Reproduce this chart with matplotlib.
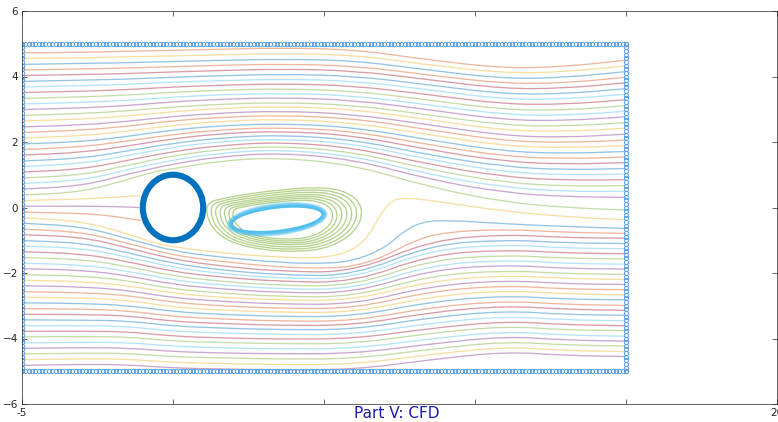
import numpy as np
import matplotlib
matplotlib.use('Agg')
import matplotlib.pyplot as plt
from matplotlib.path import Path
from matplotlib.patches import PathPatch, Ellipse

station_x = [-5, -3, -1.5, 0, 1.5, 3.5, 6, 8.5, 11, 13, 15]

# upper streamlines (lines 1..25, top to bottom), y at each station
y_top_m5 = [4.72, 4.55, 4.37, 4.20, 4.03, 3.85, 3.68, 3.51, 3.33, 3.16, 2.99, 2.81, 2.64,
            2.46, 2.29, 2.12, 1.94, 1.77, 1.60, 1.42, 1.25, 1.08, 0.90, 0.73, 0.56]
y_top_m3 = [4.74, 4.57, 4.40, 4.23, 4.06, 3.89, 3.72, 3.55, 3.38, 3.21, 3.04, 2.87, 2.70,
            2.52, 2.36, 2.19, 2.01, 1.85, 1.68, 1.50, 1.34, 1.17, 0.99, 0.83, 0.66]
y_top_m1p5 = [4.77, 4.60, 4.42, 4.26, 4.09, 3.92, 3.76, 3.60, 3.43, 3.27, 3.11, 2.95, 2.79,
              2.63, 2.48, 2.33, 2.17, 2.03, 1.88, 1.73, 1.59, 1.44, 1.29, 1.16, 1.02]
y_top_0 = [4.80, 4.63, 4.46, 4.30, 4.14, 3.98, 3.83, 3.68, 3.52, 3.37, 3.23, 3.07, 2.93,
           2.78, 2.65, 2.51, 2.37, 2.23, 2.10, 1.96, 1.84, 1.71, 1.58, 1.45, 1.33]
y_top_1p5 = [4.83, 4.66, 4.49, 4.34, 4.18, 4.02, 3.87, 3.73, 3.58, 3.44, 3.30, 3.15, 3.02,
             2.88, 2.75, 2.63, 2.49, 2.37, 2.25, 2.12, 2.01, 1.89, 1.77, 1.66, 1.55]
y_top_3p5 = [4.87, 4.70, 4.53, 4.38, 4.23, 4.07, 3.92, 3.78, 3.63, 3.49, 3.36, 3.21, 3.09,
             2.95, 2.82, 2.70, 2.57, 2.45, 2.34, 2.22, 2.10, 2.00, 1.88, 1.77, 1.67]
y_top_6 = [4.83, 4.66, 4.49, 4.33, 4.18, 4.02, 3.87, 3.72, 3.56, 3.42, 3.28, 3.13, 3.00,
           2.85, 2.72, 2.59, 2.45, 2.33, 2.20, 2.07, 1.95, 1.83, 1.70, 1.58, 1.47]
y_top_8p5 = [4.50, 4.35, 4.19, 4.04, 3.90, 3.74, 3.59, 3.44, 3.28, 3.13, 2.98, 2.82, 2.68,
             2.52, 2.37, 2.22, 2.06, 1.91, 1.76, 1.60, 1.46, 1.31, 1.15, 1.00, 0.85]
y_top_11 = [4.25, 4.10, 3.93, 3.78, 3.62, 3.46, 3.30, 3.15, 2.98, 2.83, 2.67, 2.51, 2.35,
            2.19, 2.03, 1.88, 1.71, 1.56, 1.40, 1.24, 1.08, 0.93, 0.76, 0.61, 0.45]
y_top_13 = [4.30, 4.14, 3.97, 3.80, 3.64, 3.47, 3.31, 3.15, 2.97, 2.81, 2.65, 2.48, 2.32,
            2.14, 1.98, 1.82, 1.65, 1.49, 1.32, 1.15, 0.99, 0.83, 0.65, 0.49, 0.33]
y_top_15 = [4.50, 4.33, 4.15, 3.98, 3.81, 3.63, 3.46, 3.29, 3.11, 2.94, 2.77, 2.59, 2.42,
            2.24, 2.06, 1.89, 1.71, 1.54, 1.37, 1.19, 1.02, 0.85, 0.67, 0.49, 0.31]

# lower streamlines (lines 33..56, top to bottom)
y_bot_m5 = [-0.83, -1.01, -1.18, -1.35, -1.53, -1.70, -1.87, -2.05, -2.22, -2.39, -2.57, -2.74,
            -2.91, -3.09, -3.26, -3.43, -3.61, -3.78, -3.95, -4.13, -4.30, -4.47, -4.65, -4.82]
y_bot_m3 = [-0.90, -1.08, -1.24, -1.41, -1.58, -1.75, -1.91, -2.09, -2.26, -2.42, -2.60, -2.76,
            -2.93, -3.10, -3.27, -3.44, -3.61, -3.78, -3.94, -4.12, -4.28, -4.45, -4.62, -4.79]
y_bot_m1p5 = [-1.23, -1.38, -1.51, -1.65, -1.80, -1.94, -2.08, -2.23, -2.38, -2.53, -2.68, -2.83,
              -2.99, -3.15, -3.30, -3.46, -3.63, -3.79, -3.95, -4.12, -4.29, -4.45, -4.63, -4.80]
y_bot_0 = [-1.58, -1.71, -1.83, -1.96, -2.09, -2.22, -2.35, -2.49, -2.62, -2.76, -2.90, -3.04,
           -3.18, -3.33, -3.48, -3.62, -3.78, -3.93, -4.08, -4.24, -4.40, -4.56, -4.73, -4.90]
y_bot_1p5 = [-1.78, -1.90, -2.01, -2.12, -2.25, -2.36, -2.48, -2.61, -2.74, -2.86, -3.00, -3.13,
             -3.26, -3.40, -3.54, -3.68, -3.83, -3.98, -4.12, -4.28, -4.44, -4.59, -4.76, -4.93]
y_bot_3p5 = [-1.95, -2.06, -2.16, -2.26, -2.38, -2.49, -2.60, -2.72, -2.83, -2.95, -3.08, -3.20,
             -3.33, -3.47, -3.60, -3.73, -3.88, -4.02, -4.16, -4.32, -4.47, -4.63, -4.80, -4.96]
y_bot_6 = [-1.98, -2.09, -2.18, -2.29, -2.40, -2.50, -2.61, -2.73, -2.84, -2.96, -3.09, -3.21,
           -3.33, -3.47, -3.60, -3.73, -3.88, -4.01, -4.16, -4.31, -4.46, -4.62, -4.79, -4.95]
y_bot_8p5 = [-1.00, -1.14, -1.29, -1.44, -1.60, -1.76, -1.91, -2.08, -2.24, -2.40, -2.56, -2.72,
             -2.88, -3.05, -3.20, -3.36, -3.53, -3.69, -3.84, -4.01, -4.17, -4.33, -4.49, -4.65]
y_bot_11 = [-0.82, -0.98, -1.13, -1.29, -1.45, -1.60, -1.75, -1.92, -2.07, -2.22, -2.38, -2.53,
            -2.69, -2.85, -3.00, -3.15, -3.32, -3.47, -3.62, -3.78, -3.93, -4.09, -4.25, -4.40]
y_bot_13 = [-0.92, -1.08, -1.24, -1.39, -1.55, -1.71, -1.86, -2.02, -2.17, -2.33, -2.49, -2.64,
            -2.80, -2.96, -3.11, -3.27, -3.43, -3.58, -3.74, -3.90, -4.05, -4.20, -4.37, -4.52]
y_bot_15 = [-0.94, -1.10, -1.26, -1.41, -1.57, -1.73, -1.88, -2.04, -2.20, -2.35, -2.51, -2.67,
            -2.82, -2.99, -3.14, -3.29, -3.46, -3.61, -3.76, -3.93, -4.08, -4.23, -4.40, -4.55]

# lines next to the cylinder / wake (line number 26..32)
l26_x = [-5, -3, -1.5, -0.5, 0, 1.5, 3.5, 6, 8.5, 11, 13, 15]
l26_y = [0.38, 0.47, 0.86, 1.12, 1.18, 1.42, 1.53, 1.30, 0.62, 0.16, 0.0, -0.08]
l27_x = [-5, -3, -2, -1.08]
l27_y = [0.21, 0.26, 0.31, 0.36]
l28_x = [-5, -3, -2, -1.12]
l28_y = [0.04, 0.04, 0.03, 0.0]
l29_x = [-5, -3, -2, -1.06]
l29_y = [-0.14, -0.18, -0.26, -0.40]
l30_x = [-5, -3, -1.5, -0.5, 0, 1.5, 3.5, 5, 6, 6.5, 6.9, 7.25, 7.7, 8.5, 11, 13, 15]
l30_y = [-0.31, -0.42, -0.80, -1.12, -1.20, -1.38, -1.52, -1.55, -1.30, -0.85, -0.15, 0.22,
         0.30, 0.22, -0.12, -0.28, -0.38]
l31_x = [-5, -3, -1.5, 0, 1.5, 3.5, 5, 6, 7, 7.6, 8.2, 9, 11, 13, 15]
l31_y = [-0.48, -0.58, -0.95, -1.33, -1.51, -1.68, -1.72, -1.62, -1.25, -0.75, -0.45, -0.38,
         -0.50, -0.58, -0.64]
l32_x = [-5, -3, -1.5, 0, 1.5, 3.5, 5, 6, 7, 8, 9, 11, 13, 15]
l32_y = [-0.66, -0.75, -1.09, -1.46, -1.64, -1.82, -1.86, -1.80, -1.50, -1.00, -0.75, -0.66,
         -0.76, -0.79]

# recirculation bubble, outer loop and relative size of the nested loops
bubble_x = [1.12, 1.6, 2.5, 3.5, 4.6, 5.5, 6.1, 6.3, 6.0, 5.2, 4.2, 3.0, 2.0, 1.4, 1.12]
bubble_y = [0.14, 0.27, 0.42, 0.53, 0.62, 0.56, 0.28, -0.20, -0.78, -1.22, -1.36, -1.30,
            -1.10, -0.75, -0.30]
bubble_center = (3.55, -0.38)
loop_sx = [1.0, 0.94, 0.88, 0.82, 0.76, 0.70, 0.645]
loop_sy = [1.0, 0.93, 0.86, 0.79, 0.73, 0.67, 0.61]

# vortex core ring (width, height of the nested ellipses), inner to outer
core_w = [3.00, 3.06, 3.12, 3.18, 3.24, 3.30]
core_h = [0.70, 0.75, 0.80, 0.85, 0.90, 0.95]

xtick_vals = [-5, 0, 5, 10, 15, 20]
xtick_text = ['-5', '', '', '', '', '20']
ytick_vals = [-6, -4, -2, 0, 2, 4, 6]

mcol = [(0, 0.447, 0.741), (0.85, 0.325, 0.098), (0.929, 0.694, 0.125),
        (0.494, 0.184, 0.556), (0.466, 0.674, 0.188), (0.301, 0.745, 0.933),
        (0.635, 0.078, 0.184)]


def line_color(k):
    # two interleaved colour cycles, k counted from the top (1-based)
    if k % 2 == 1:
        return mcol[(1 - (k - 1) // 2) % 7]
    return mcol[(2 - (k - 2) // 2) % 7]


def spline_path(xs, ys, closed=False):
    pts = np.column_stack([xs, ys]).astype(float)
    if closed:
        nxt = np.roll(pts, -1, axis=0)
        mids = (pts + nxt) / 2
        verts = [mids[-1]]
        codes = [Path.MOVETO]
        for i in range(len(pts)):
            verts += [pts[i], mids[i]]
            codes += [Path.CURVE3, Path.CURVE3]
        return Path(verts, codes)
    if len(pts) < 3:
        return Path(pts)
    mids = (pts[:-1] + pts[1:]) / 2
    verts = [pts[0], mids[0]]
    codes = [Path.MOVETO, Path.LINETO]
    for i in range(1, len(pts) - 1):
        verts += [pts[i], mids[i]]
        codes += [Path.CURVE3, Path.CURVE3]
    verts.append(pts[-1])
    codes.append(Path.LINETO)
    return Path(verts, codes)


fig = plt.figure(figsize=(7.78, 4.22), dpi=100, facecolor='white')
ax = fig.add_axes([22 / 778, 18 / 422, 755 / 778, 393 / 422])

lw = 0.95
alpha = 0.42

tops = np.array([y_top_m5, y_top_m3, y_top_m1p5, y_top_0, y_top_1p5, y_top_3p5,
                 y_top_6, y_top_8p5, y_top_11, y_top_13, y_top_15])
bots = np.array([y_bot_m5, y_bot_m3, y_bot_m1p5, y_bot_0, y_bot_1p5, y_bot_3p5,
                 y_bot_6, y_bot_8p5, y_bot_11, y_bot_13, y_bot_15])

for i in range(tops.shape[1]):
    k = i + 1
    ax.add_patch(PathPatch(spline_path(station_x, tops[:, i]), fill=False,
                           ec=line_color(k), lw=lw, alpha=alpha))
for i in range(bots.shape[1]):
    k = i + 33
    ax.add_patch(PathPatch(spline_path(station_x, bots[:, i]), fill=False,
                           ec=line_color(k), lw=lw, alpha=alpha))

special = [(26, l26_x, l26_y), (27, l27_x, l27_y), (28, l28_x, l28_y), (29, l29_x, l29_y),
           (30, l30_x, l30_y), (31, l31_x, l31_y), (32, l32_x, l32_y)]
for k, xs, ys in special:
    ax.add_patch(PathPatch(spline_path(xs, ys), fill=False, ec=line_color(k),
                           lw=lw, alpha=alpha))

# recirculation loops
cx, cy = bubble_center
for sx, sy in zip(loop_sx, loop_sy):
    lx = cx + sx * (np.array(bubble_x) - cx)
    ly = cy + sy * (np.array(bubble_y) - cy)
    ax.add_patch(PathPatch(spline_path(lx, ly, closed=True), fill=False,
                           ec=mcol[4], lw=lw, alpha=0.55))

# vortex core, bright inside fading outwards
for j, (w, h) in enumerate(zip(core_w, core_h)):
    ax.add_patch(Ellipse((3.45, -0.36), w, h, angle=6.0, fill=False,
                         ec=mcol[5], lw=1.3, alpha=0.95 - 0.13 * j))

# cylinder
ax.add_patch(Ellipse((0, 0), 2.0, 2.0, fill=False, ec=mcol[0], lw=4.4))

# boundary points
bx = np.linspace(-5, 15, 181)
by = np.linspace(-5, 5, 91)
edge_x = np.concatenate([bx, np.full(by.size, 15.0), bx, np.full(by.size, -5.0)])
edge_y = np.concatenate([np.full(bx.size, 5.0), by, np.full(bx.size, -5.0), by])
ax.plot(edge_x, edge_y, 'o', ls='none', ms=3.1, mfc='none', mec=(0.36, 0.62, 0.86),
        mew=0.7)

ax.set_xlim(-5, 20)
ax.set_ylim(-6, 6)
ax.set_xticks(xtick_vals)
ax.set_xticklabels(xtick_text)
ax.set_yticks(ytick_vals)
ax.tick_params(direction='in', top=True, right=True, length=3.5, width=0.5,
               labelsize=7.5, labelcolor=(0.15, 0.15, 0.15), color=(0.15, 0.15, 0.15), pad=3)
for s in ax.spines.values():
    s.set_linewidth(0.5)
    s.set_color((0.15, 0.15, 0.15))

fig.text(397 / 778, 1 - 413 / 422, 'Part V: CFD', ha='center', va='center',
         fontsize=11, color=(0.1, 0.1, 0.65))

fig.savefig('out.png', dpi=100, facecolor='white')
